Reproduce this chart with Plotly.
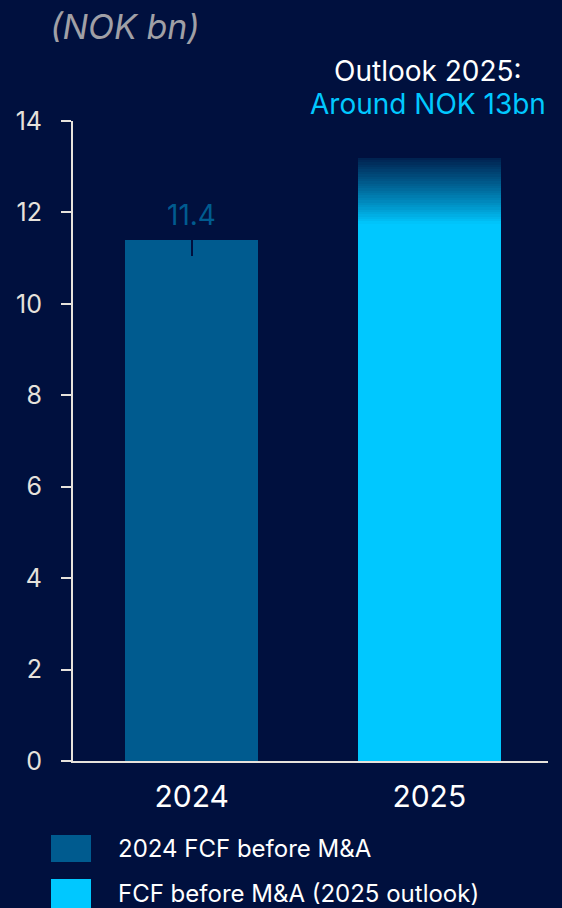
import plotly.graph_objects as go

# ---- data ----
years = ["2024", "2025"]
fcf = [11.4, 13.2]            # NOK bn, bar tops
fade_from = 11.75             # where the 2025 outlook bar starts fading out
value_label = "11.4"
legend_labels = ["2024 FCF before M&A", "FCF before M&A (2025 outlook)"]
y_ticks = [0, 2, 4, 6, 8, 10, 12, 14]

# ---- style ----
BG = "#00103e"
DARK = "#005b8f"
CYAN = "#00c8ff"
AXIS = "#e6e2dc"
FONT = "Inter"

W, H = 562, 908
ML, MR, MT, MB = 73, 14, 121, 147
PW, PH = W - ML - MR, H - MT - MB


def px_x(x):
    return (x - ML) / PW


def px_y(y):
    return (H - MB - y) / PH


def mix(c1, c2, t):
    a = [int(c1[i:i + 2], 16) for i in (1, 3, 5)]
    b = [int(c2[i:i + 2], 16) for i in (1, 3, 5)]
    return "rgb({},{},{})".format(*[round(a[k] + (b[k] - a[k]) * t) for k in range(3)])


widths = [0.56, 0.6]
fig = go.Figure()

# solid bars (2025 bar solid only up to where the fade begins)
fig.add_trace(go.Bar(
    x=years, y=[fcf[0], fade_from], width=widths,
    marker=dict(color=[DARK, CYAN], line=dict(width=0)),
    error_y=dict(type="data", symmetric=False, array=[0, 0],
                 arrayminus=[0.35, 0], color=BG, thickness=1.5, width=0),
    showlegend=False, hoverinfo="skip",
))

# fading top of the 2025 outlook bar, built from thin stacked slices
steps = 28
dy = (fcf[1] - fade_from) / steps
for i in range(steps):
    t = (i + 0.5) / steps
    fig.add_trace(go.Bar(
        x=[years[1]], y=[dy], base=[fade_from + i * dy], width=[widths[1]],
        marker=dict(color=mix(CYAN, "#00204e", t ** 0.9), line=dict(width=0)),
        showlegend=False, hoverinfo="skip",
    ))

fig.update_layout(
    width=W, height=H,
    margin=dict(l=ML, r=MR, t=MT, b=MB),
    paper_bgcolor=BG, plot_bgcolor=BG,
    barmode="overlay", bargap=0,
    font=dict(family=FONT, color=AXIS),
    xaxis=dict(
        type="category", range=[-0.5, 1.5],
        showline=True, linecolor=AXIS, linewidth=2,
        ticks="", showgrid=False, zeroline=False,
        tickfont=dict(family=FONT, size=30, color="#ffffff"),
        ticklabelstandoff=8,
    ),
    yaxis=dict(
        range=[0, 14], tickvals=y_ticks,
        showline=True, linecolor=AXIS, linewidth=2,
        ticks="outside", ticklen=10, tickwidth=2, tickcolor=AXIS,
        showgrid=False, zeroline=False,
        tickfont=dict(family=FONT, size=25, color=AXIS),
        ticklabelstandoff=14,
    ),
)

annotations = [
    dict(text="<i>(NOK bn)</i>", x=px_x(48), y=px_y(26), xanchor="left", yanchor="middle",
         font=dict(family=FONT, size=34, color="#a0a0a6")),
    dict(text="Outlook 2025:", x=px_x(428), y=px_y(71), xanchor="center", yanchor="middle",
         font=dict(family=FONT, size=28, color="#ffffff")),
    dict(text="Around NOK 13bn", x=px_x(428), y=px_y(104), xanchor="center", yanchor="middle",
         font=dict(family=FONT, size=28, color=CYAN)),
    # value label above the 2024 bar (category index on the x axis)
    dict(text=value_label, x=years.index("2024"), y=fcf[0], xref="x", yref="y",
         xanchor="center", yanchor="bottom", yshift=6,
         font=dict(family=FONT, size=28, color=DARK)),
]
for a in annotations:
    a.setdefault("xref", "paper")
    a.setdefault("yref", "paper")
    a["showarrow"] = False

# legend: large swatches with labels below the chart
shapes = []
rows = [(835, 862, DARK), (879, 908, CYAN)]
for (y0, y1, col), label in zip(rows, legend_labels):
    shapes.append(dict(type="rect", xref="paper", yref="paper",
                       x0=px_x(51), x1=px_x(91), y0=px_y(y1), y1=px_y(y0),
                       fillcolor=col, line=dict(width=0)))
    annotations.append(dict(text=label, xref="paper", yref="paper", showarrow=False,
                            x=px_x(116), y=px_y((y0 + y1) / 2), xanchor="left",
                            yanchor="middle",
                            font=dict(family=FONT, size=24, color="#ffffff")))

fig.update_layout(annotations=annotations, shapes=shapes)

fig.write_html("out.html")
